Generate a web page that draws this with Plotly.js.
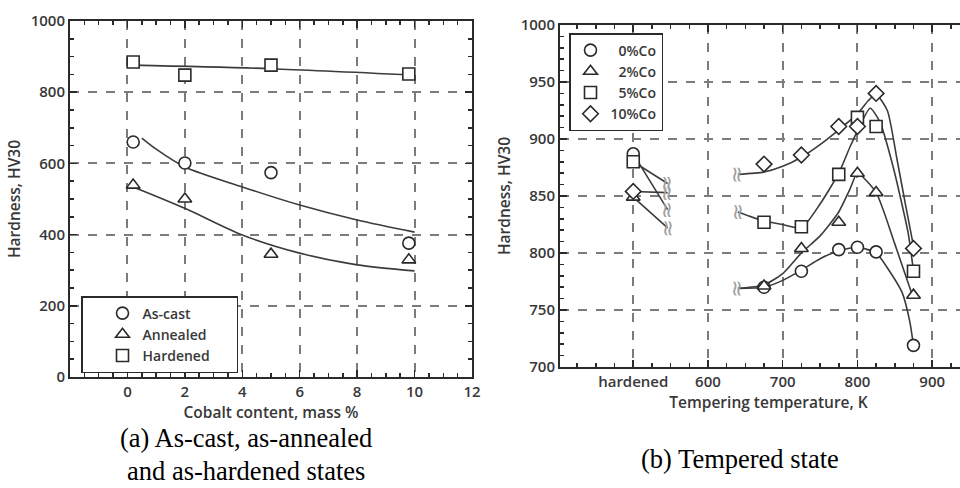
<!DOCTYPE html>
<html>
<head>
<meta charset="utf-8">
<script src="https://cdn.plot.ly/plotly-3.0.1.min.js"></script>
<style>
html, body { margin:0; padding:0; overflow:hidden; background:#fff; width:960px; height:488px; }
#chart { width:1000px; height:488px; }
</style>
</head>
<body>
<div id="chart"></div>
<script>
// ---------- (a) As-cast, as-annealed and as-hardened ----------
const cobaltX = [0.2, 2, 5, 9.8];
const asCast = [660, 601, 574, 376];
const annealed = [539, 500, 345, 329];
const hardenedA = [885, 848, 876, 851];

const castFitX = [0.5, 1, 2, 4, 6, 8, 10];
const castFitY = [671, 640, 590, 534, 483, 441, 407];
const annFitX = [0.2, 2, 4, 6, 8, 10];
const annFitY = [534, 474, 399, 348, 315, 298];
const hardFitX = [0.2, 5, 10];
const hardFitY = [876, 866, 848];

const aXTicks = [0, 2, 4, 6, 8, 10, 12];

// ---------- (b) Tempered state ----------
const tempX = [675, 725, 775, 800, 825, 875];
const co0 = [770, 784, 803, 805, 801, 719];
const co2 = [771, 804, 827, 870, 853, 763];
const co5 = [827, 823, 869, 919, 911, 784];
const co10 = [878, 886, 911, 911, 940, 804];

const hardenedX = 500;
const hard0 = 887, hard2 = 849, hard5 = 880, hard10 = 854;
const hardBreakX = 546;
const hardEnd0 = 838, hardEnd2 = 822, hardEnd5 = 861, hardEnd10 = 853;

const fit0X = [640, 675, 700, 725, 750, 775, 800, 825, 845, 860, 870, 875];
const fit0Y = [769, 770, 776, 785, 795, 802, 805, 800, 782, 765, 740, 719];
const fit2X = [640, 675, 700, 725, 750, 775, 790, 800, 825, 850, 875];
const fit2Y = [769, 772, 782, 800, 815, 836, 856, 870, 853, 808, 760];
const fit5X = [640, 675, 700, 725, 750, 775, 790, 800, 817, 830, 848, 868, 875];
const fit5Y = [836, 828, 825, 822, 843, 870, 893, 907, 927, 915, 875, 817, 784];
const fit10X = [640, 675, 700, 725, 750, 775, 800, 815, 825, 840, 853, 865, 875];
const fit10Y = [869, 871, 876, 884, 895, 908, 922, 934, 939, 925, 882, 840, 806];

const breakX = [546, 546, 546, 546, 640, 640, 640];
const breakY = [861, 853, 838, 822, 869, 836, 769];

const bTickVals = [500, 600, 700, 800, 900];
const bTickText = ['hardened', '600', '700', '800', '900'];

const legendA = ['As-cast', 'Annealed', 'Hardened'];
const legendB = ['\u20070%Co', '\u20072%Co', '\u20075%Co', '10%Co'];

const captionA1 = '(a) As-cast, as-annealed';
const captionA2 = 'and as-hardened states';
const captionB = '(b) Tempered state';

// ---------- styles ----------
const INK = '#2a2a2a';
const lineStyle = {color: '#3c3c3c', width: 1.6};
function mk(sym) {
  return {symbol: sym, size: 12, color: '#ffffff', line: {color: INK, width: 1.6}};
}
const tickFont = {family: 'Open Sans, sans-serif', size: 15, color: '#383838', weight: 600};
const titleFont = {family: 'Open Sans, sans-serif', size: 15.5, color: '#383838', weight: 600};
const legFont = {family: 'Open Sans, sans-serif', size: 14, color: '#383838', weight: 600};

const traces = [];
// fitted curves (a)
traces.push({x: castFitX, y: castFitY, mode: 'lines', line: Object.assign({shape: 'spline', smoothing: 0.8}, lineStyle), showlegend: false, hoverinfo: 'skip', xaxis: 'x', yaxis: 'y'});
traces.push({x: annFitX, y: annFitY, mode: 'lines', line: Object.assign({shape: 'spline', smoothing: 0.8}, lineStyle), showlegend: false, hoverinfo: 'skip', xaxis: 'x', yaxis: 'y'});
traces.push({x: hardFitX, y: hardFitY, mode: 'lines', line: Object.assign({shape: 'spline', smoothing: 0.8}, lineStyle), showlegend: false, hoverinfo: 'skip', xaxis: 'x', yaxis: 'y'});
// markers (a)
const padA = '\u2003\u2002';
traces.push({x: cobaltX, y: asCast, name: legendA[0] + padA, mode: 'markers', marker: mk('circle'), xaxis: 'x', yaxis: 'y', legend: 'legend'});
traces.push({x: cobaltX, y: annealed, name: legendA[1] + padA, mode: 'markers', marker: mk('triangle-up'), xaxis: 'x', yaxis: 'y', legend: 'legend'});
traces.push({x: cobaltX, y: hardenedA, name: legendA[2] + padA, mode: 'markers', marker: mk('square'), xaxis: 'x', yaxis: 'y', legend: 'legend'});

// hardened-to-break lines (b)
const hardStarts = [hard0, hard2, hard5, hard10];
const hardEnds = [hardEnd0, hardEnd2, hardEnd5, hardEnd10];
for (let i = 0; i < 4; i++) {
  traces.push({x: [hardenedX, hardBreakX], y: [hardStarts[i], hardEnds[i]], mode: 'lines', line: lineStyle, showlegend: false, hoverinfo: 'skip', xaxis: 'x2', yaxis: 'y2'});
}
// fitted curves (b)
[[fit0X, fit0Y], [fit2X, fit2Y], [fit5X, fit5Y], [fit10X, fit10Y]].forEach(function (f) {
  traces.push({x: f[0], y: f[1], mode: 'lines', line: Object.assign({shape: 'spline', smoothing: 0.6}, lineStyle), showlegend: false, hoverinfo: 'skip', xaxis: 'x2', yaxis: 'y2'});
});
// markers (b)
const bSeries = [co0, co2, co5, co10];
const bSyms = ['circle', 'triangle-up', 'square', 'diamond'];
for (let i = 0; i < 4; i++) {
  traces.push({x: [hardenedX].concat(tempX), y: [hardStarts[i]].concat(bSeries[i]), name: legendB[i], mode: 'markers',
    marker: mk(bSyms[i]), xaxis: 'x2', yaxis: 'y2', legend: 'legend2'});
}

const annotations = [];
for (let i = 0; i < breakX.length; i++) {
  annotations.push({x: breakX[i], y: breakY[i], xref: 'x2', yref: 'y2', text: '\u2248', showarrow: false, textangle: 90,
    font: {family: 'DejaVu Sans', size: 22, color: '#a0a0a0'}});
}
const capFont = {family: 'Liberation Serif, Times New Roman, serif', size: 26.5, color: '#000'};
annotations.push({x: 0.246, y: 1 - 438 / 488, xref: 'paper', yref: 'paper', text: captionA1, showarrow: false, font: capFont, xanchor: 'center', yanchor: 'middle'});
annotations.push({x: 0.246, y: 1 - 471 / 488, xref: 'paper', yref: 'paper', text: captionA2, showarrow: false, font: capFont, xanchor: 'center', yanchor: 'middle'});
annotations.push({x: 0.740, y: 1 - 459 / 488, xref: 'paper', yref: 'paper', text: captionB, showarrow: false, font: capFont, xanchor: 'center', yanchor: 'middle'});

function axisBase(extra) {
  return Object.assign({
    showline: true, linecolor: INK, linewidth: 2, mirror: 'allticks',
    ticks: 'inside', ticklen: 7, tickwidth: 1.5, tickcolor: INK,
    showgrid: true, gridcolor: '#7c7c7c', gridwidth: 2, griddash: 'dash',
    zeroline: false, tickfont: tickFont, fixedrange: true
  }, extra);
}

const layout = {
  width: 1000, height: 488,
  margin: {l: 0, r: 0, t: 0, b: 0},
  paper_bgcolor: '#fff', plot_bgcolor: '#fff',
  showlegend: true,
  xaxis: axisBase({domain: [0.070, 0.472], range: [-2, 12], tickmode: 'array', tickvals: aXTicks, anchor: 'y',
    minor: {ticks: 'inside', dtick: 0.5, tick0: 0, ticklen: 4, tickcolor: INK, showgrid: false},
    title: {text: 'Cobalt content, mass %', font: titleFont, standoff: 3}}),
  yaxis: axisBase({domain: [1 - 377 / 488, 1 - 21 / 488], range: [0, 1000], dtick: 200, anchor: 'x',
    minor: {ticks: 'inside', dtick: 50, ticklen: 4, tickcolor: INK, showgrid: false},
    title: {text: 'Hardness, HV30', font: titleFont, standoff: 6}}),
  xaxis2: axisBase({domain: [0.560, 0.977], range: [402, 960], tickmode: 'array', tickvals: bTickVals, ticktext: bTickText, anchor: 'y2',
    minor: {ticks: 'inside', dtick: 25, tick0: 500, ticklen: 4, tickcolor: INK, showgrid: false},
    title: {text: 'Tempering temperature, K', font: titleFont, standoff: 3}}),
  yaxis2: axisBase({domain: [1 - 367 / 488, 1 - 25 / 488], range: [700, 1000], dtick: 50, anchor: 'x2',
    minor: {ticks: 'inside', dtick: 10, ticklen: 4, tickcolor: INK, showgrid: false},
    title: {text: 'Hardness, HV30', font: titleFont, standoff: 6}}),
  legend: {x: 0.081, y: 1 - 296 / 488, xanchor: 'left', yanchor: 'top', bgcolor: '#fff', bordercolor: INK, borderwidth: 1.5,
    font: legFont, indentation: 20, tracegroupgap: 0},
  legend2: {x: 0.569, y: 1 - 33 / 488, xanchor: 'left', yanchor: 'top', bgcolor: '#fff', bordercolor: INK, borderwidth: 1.5,
    font: legFont, tracegroupgap: 0},
  annotations: annotations
};

Plotly.newPlot('chart', traces, layout, {displayModeBar: false, staticPlot: true});
</script>
</body>
</html>
